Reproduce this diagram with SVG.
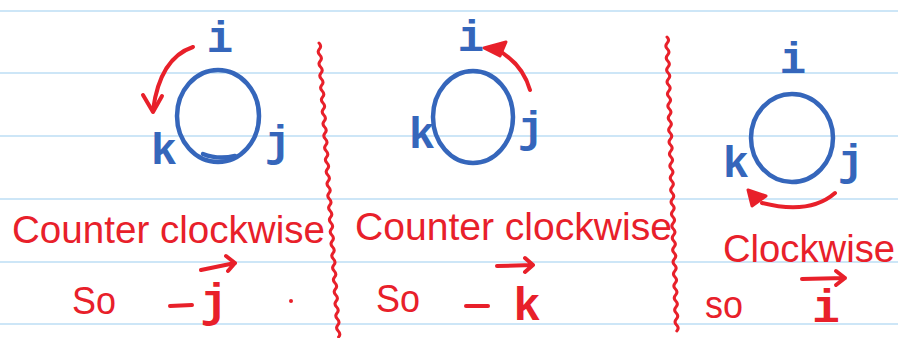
<svg xmlns="http://www.w3.org/2000/svg" width="898" height="338" viewBox="0 0 898 338">
<style>
.rule{stroke:#cde6f7;stroke-width:2}
.red{fill:none;stroke:#e8202a;stroke-width:4;stroke-linecap:round;stroke-linejoin:round}
.redf{fill:#e8202a;stroke:#e8202a;stroke-width:3;stroke-linejoin:round}
.blue{fill:none;stroke:#3566bb;stroke-width:4.5;stroke-linecap:round}
.bl{font-family:"Liberation Mono",monospace;fill:#3566bb;font-size:44px;font-weight:bold;text-anchor:middle}
.rv{font-family:"Liberation Mono","DejaVu Sans Mono",monospace;fill:#e8202a;font-size:46px;font-weight:bold;text-anchor:middle}
.rt{font-family:"Liberation Sans",Arial,sans-serif;fill:#e8202a;font-size:38px}
.wave{fill:none;stroke:#e8202a;stroke-width:3;stroke-linecap:round}
</style>
<rect width="898" height="338" fill="#ffffff"/>
<g id="rules">
<line class="rule" x1="0" y1="11" x2="898" y2="11"/>
<line class="rule" x1="0" y1="73" x2="898" y2="73"/>
<line class="rule" x1="0" y1="136" x2="898" y2="136"/>
<line class="rule" x1="0" y1="199" x2="898" y2="199"/>
<line class="rule" x1="0" y1="262" x2="898" y2="262"/>
<line class="rule" x1="0" y1="324" x2="898" y2="324"/>
</g>
<g id="dividers">
<path class="wave" d="M319 43 q3 3 0.4 6 t0.4 6 t0.4 6 t0.4 6 t0.4 6 t0.4 6 t0.4 6 t0.4 6 t0.4 6 t0.4 6 t0.4 6 t0.4 6 t0.4 6 t0.4 6 t0.4 6 t0.4 6 t0.4 6 t0.4 6 t0.4 6 t0.4 6 t0.4 6 t0.4 6 t0.4 6 t0.4 6 t0.4 6 t0.4 6 t0.4 6 t0.4 6 t0.4 6 t0.4 6 t0.4 6 t0.4 6 t0.4 6 t0.4 6 t0.4 6 t0.4 6 t0.4 6 t0.4 6 t0.4 6 t0.4 6 t0.4 6 t0.4 6 t0.4 6 t0.4 6 t0.4 6 t0.4 6 t0.4 6 t0.4 6 t0.4 6"/>
<path class="wave" d="M667 37 q3 3 0.2 6 t0.2 6 t0.2 6 t0.2 6 t0.2 6 t0.2 6 t0.2 6 t0.2 6 t0.2 6 t0.2 6 t0.2 6 t0.2 6 t0.2 6 t0.2 6 t0.2 6 t0.2 6 t0.2 6 t0.2 6 t0.2 6 t0.2 6 t0.2 6 t0.2 6 t0.2 6 t0.2 6 t0.2 6 t0.2 6 t0.2 6 t0.2 6 t0.2 6 t0.2 6 t0.2 6 t0.2 6 t0.2 6 t0.2 6 t0.2 6 t0.2 6 t0.2 6 t0.2 6 t0.2 6 t0.2 6 t0.2 6 t0.2 6 t0.2 6 t0.2 6 t0.2 6 t0.2 6 t0.2 6 t0.2 6 t0.2 6"/>
</g>
<g id="panel1">
<ellipse class="blue" cx="218" cy="116" rx="41" ry="46"/>
<path class="blue" d="M203 154 q15 6 32 2"/>
<text class="bl" x="220" y="52">i</text>
<text class="bl" x="164" y="164">k</text>
<text class="bl" x="278" y="156">j</text>
<path class="red" d="M193 47 Q160 58 153 110"/>
<path class="red" d="M143 95 L153 112 L162 96"/>
<text class="rt" x="12" y="243" textLength="313" lengthAdjust="spacingAndGlyphs">Counter clockwise</text>
<text class="rt" x="72" y="314" textLength="44" lengthAdjust="spacingAndGlyphs">So</text>
<path class="red" d="M170 306 L192 305"/>
<text class="rv" x="214" y="316">j</text>
<path class="red" d="M201 270 L235 263 M226 256 L235 263 L228 271"/>
<circle cx="291" cy="301" r="2" fill="#e8202a"/>
</g>
<g id="panel2">
<ellipse class="blue" cx="473" cy="117" rx="40" ry="46"/>
<text class="bl" x="471" y="51">i</text>
<text class="bl" x="422" y="148">k</text>
<text class="bl" x="531" y="142">j</text>
<path class="red" d="M530 90 Q522 62 494 48"/>
<path class="redf" d="M484 48 L506 42 L500 56 Z"/>
<text class="rt" x="355" y="240" textLength="317" lengthAdjust="spacingAndGlyphs">Counter clockwise</text>
<text class="rt" x="376" y="312" textLength="44" lengthAdjust="spacingAndGlyphs">So</text>
<path class="red" d="M466 306 L488 306"/>
<text class="rv" x="527" y="320">k</text>
<path class="red" d="M497 266 L533 265 M525 258 L533 265 L525 272"/>
</g>
<g id="panel3">
<ellipse class="blue" cx="792" cy="138" rx="41" ry="44"/>
<text class="bl" x="793" y="73">i</text>
<text class="bl" x="736" y="177">k</text>
<text class="bl" x="851" y="175">j</text>
<path class="red" d="M835 193 Q810 215 762 203"/>
<path class="redf" d="M748 190 L766 196 L752 206 Z"/>
<text class="rt" x="723" y="262" textLength="172" lengthAdjust="spacingAndGlyphs">Clockwise</text>
<text class="rt" x="705" y="318" textLength="38" lengthAdjust="spacingAndGlyphs">so</text>
<text class="rv" x="826" y="322">i</text>
<path class="red" d="M802 279 L845 278 M836 271 L845 278 L836 285"/>
</g>
</svg>
